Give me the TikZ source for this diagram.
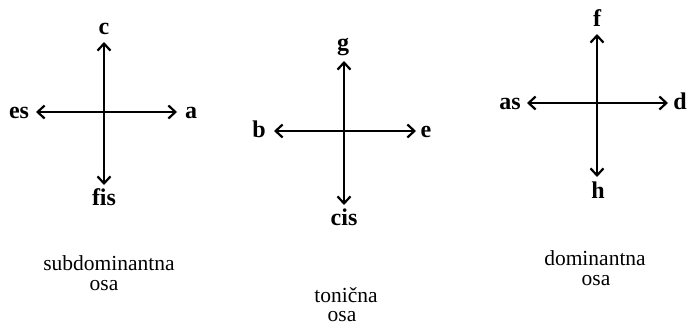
\documentclass[tikz,border=0pt]{standalone}
\usepackage{fontspec}
\setmainfont{Liberation Serif}
\usetikzlibrary{arrows.meta}
\begin{document}
\begin{tikzpicture}[x=1pt,y=-1pt,
  axis/.style={line width=2.2pt,{Straight Barb[length=7pt,width=13pt,line width=2.2pt]}-{Straight Barb[length=7pt,width=13pt,line width=2.2pt]}},
  tone/.style={font=\fontsize{24}{27}\selectfont\bfseries,inner sep=0pt,anchor=base},
  caption/.style={font=\fontsize{21.5}{24}\selectfont,inner sep=0pt,anchor=base}]
\useasboundingbox (0,0) rectangle (688,324);
% subdominant axis
\coordinate (n1) at (104,42);
\coordinate (s1) at (104,185);
\coordinate (w1) at (36,112);
\coordinate (e1) at (177,112);
\draw[axis] (n1) -- (s1);
\draw[axis] (w1) -- (e1);
\node[tone] (c) at (104,34) {c};
\node[tone] (fis) at (104,205) {fis};
\node[tone] (es) at (19,118) {es};
\node[tone] (a) at (191,118) {a};
% tonic axis
\coordinate (n2) at (344,61);
\coordinate (s2) at (344,205);
\coordinate (w2) at (274,131);
\coordinate (e2) at (416,131);
\draw[axis] (n2) -- (s2);
\draw[axis] (w2) -- (e2);
\node[tone] (g) at (343,50) {g};
\node[tone] (cis) at (344,225) {cis};
\node[tone] (b) at (259,137) {b};
\node[tone] (e) at (426,137) {e};
% dominant axis
\coordinate (n3) at (597,34);
\coordinate (s3) at (597,177);
\coordinate (w3) at (527,103);
\coordinate (e3) at (668,103);
\draw[axis] (n3) -- (s3);
\draw[axis] (w3) -- (e3);
\node[tone] (f) at (597,27) {f};
\node[tone] (h) at (598,198) {h};
\node[tone] (as) at (510,109) {as};
\node[tone] (d) at (680,109) {d};
% captions
\node[caption] (sub1) at (109,270) {subdominantna};
\node[caption] (sub2) at (104,290) {osa};
\node[caption] (ton1) at (346,302) {tonična};
\node[caption] (ton2) at (342,321) {osa};
\node[caption] (dom1) at (595,265) {dominantna};
\node[caption] (dom2) at (596,285) {osa};
\end{tikzpicture}
\end{document}
